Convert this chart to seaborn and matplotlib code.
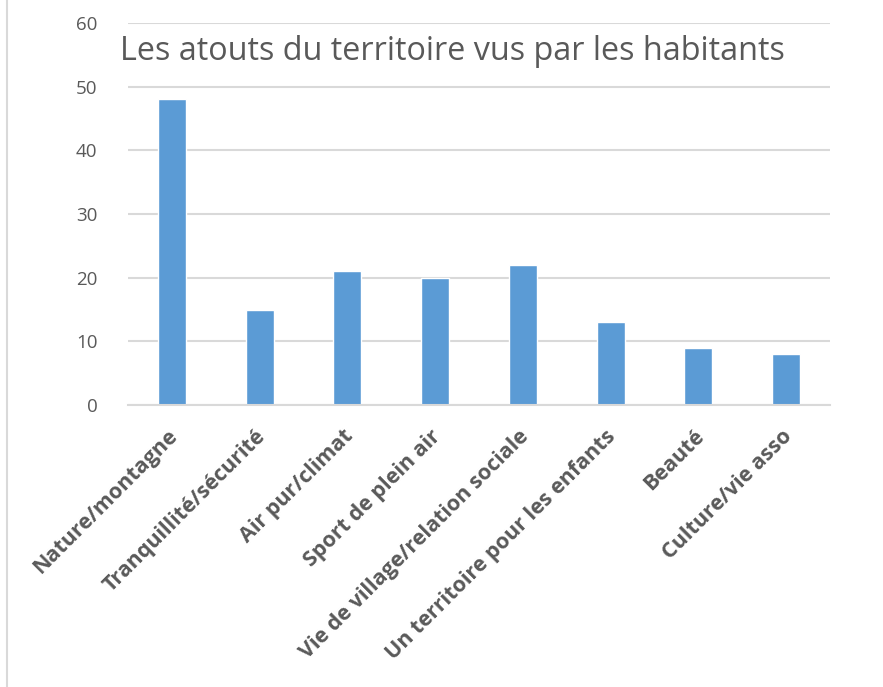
import matplotlib
matplotlib.use("Agg")
import matplotlib.pyplot as plt
import matplotlib.transforms as mtransforms
import seaborn as sns
import pandas as pd

categories = ["Nature/montagne", "Tranquillité/sécurité", "Air pur/climat", "Sport de plein air",
              "Vie de village/relation sociale", "Un territoire pour les enfants", "Beauté", "Culture/vie asso"]
values = [48, 15, 21, 20, 22, 13, 9, 8]
yticks = [0, 10, 20, 30, 40, 50, 60]
title = "Les atouts du territoire vus par les habitants"

sns.set_theme(style="white")
plt.rcParams['font.family'] = ['Open Sans', 'DejaVu Sans']

df = pd.DataFrame({"cat": categories, "val": values})
fig = plt.figure(figsize=(8.83, 6.87), dpi=100)
ax = fig.add_axes([128/883, 1-405/687, (830-128)/883, (405-23)/687])
sns.barplot(data=df, x="cat", y="val", color="#5B9BD5", width=0.32, saturation=1, ax=ax)
ax.set_ylim(0, 60)
ax.set_xlim(-0.5, len(categories)-0.5)
ax.set_yticks(yticks)
ax.yaxis.grid(True, color="#D9D9D9", lw=1.5)
ax.set_axisbelow(True)
for s in ["top", "right", "left"]:
    ax.spines[s].set_visible(False)
ax.spines["bottom"].set_color("#D9D9D9")
ax.spines["bottom"].set_linewidth(1.5)
ax.set_xlabel("")
ax.set_ylabel("")
ax.tick_params(axis="y", length=0, pad=22, labelsize=13.5, labelcolor="#595959")
ax.tick_params(axis="x", length=0, pad=15, labelsize=15.5, labelcolor="#595959")
offset = mtransforms.ScaledTranslation(-5/100, 0, fig.dpi_scale_trans)
for lbl in ax.get_xticklabels():
    lbl.set_rotation(45)
    lbl.set_ha("right")
    lbl.set_rotation_mode("anchor")
    lbl.set_fontweight("bold")
    lbl.set_transform(lbl.get_transform() + offset)
fig.text(120/883, 1-52/687, title, fontsize=23.3, color="#595959", va="center", ha="left")
fig.add_artist(plt.Line2D([7/883, 7/883], [0, 1], color="#D9D9D9", lw=1.5, transform=fig.transFigure))
fig.savefig("out.png", dpi=100)
